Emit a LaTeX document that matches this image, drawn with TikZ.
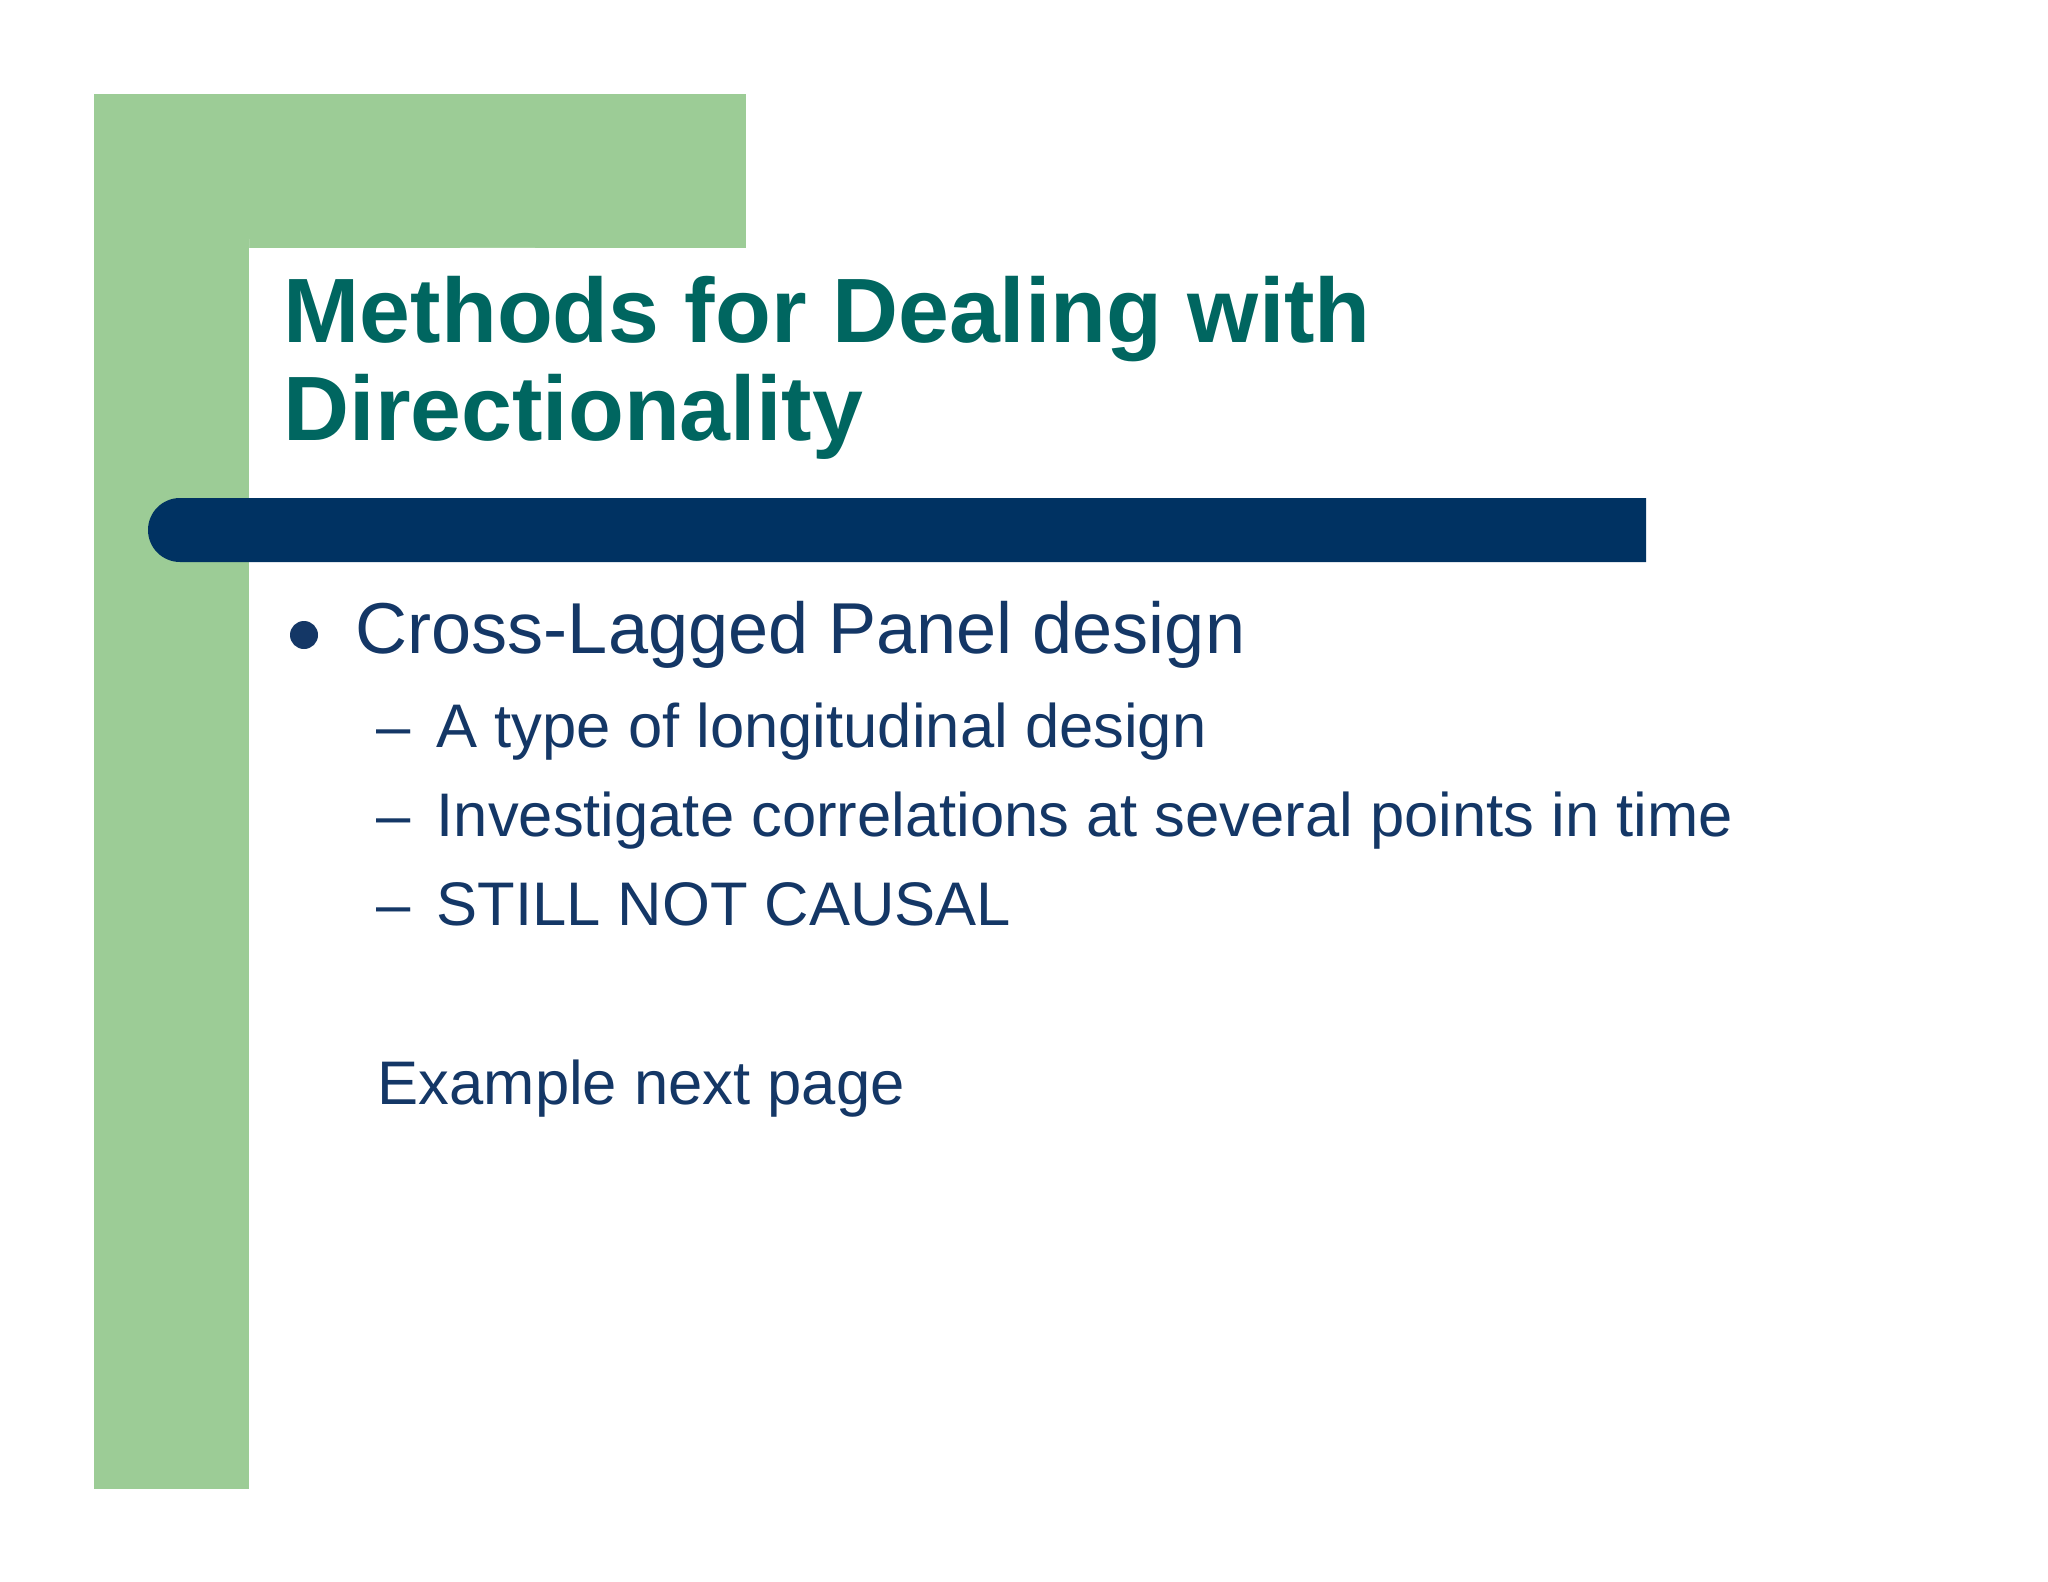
\documentclass[tikz,border=0pt]{standalone}
\usepackage{fontspec}
\setmainfont{Liberation Sans}
\definecolor{grn}{HTML}{9CCC96}
\definecolor{navy}{HTML}{003262}
\definecolor{teal}{HTML}{006660}
\definecolor{txt}{HTML}{143766}
\begin{document}
\begin{tikzpicture}[x=0.01cm,y=-0.01cm,
  title/.style={anchor=base west,inner sep=0,text=teal,font=\fontsize{26}{30}\selectfont\bfseries},
  lvlone/.style={anchor=base west,inner sep=0,text=txt,font=\fontsize{20.5}{24}\selectfont},
  lvltwo/.style={anchor=base west,inner sep=0,text=txt,font=\fontsize{17.5}{21}\selectfont}]
\useasboundingbox[fill=white] (0,0) rectangle (2048,1582);
\fill[grn] (94,94) rectangle (746,248);
\fill[grn] (94,94) rectangle (249,1489);
\fill[white] (249,248) [rounded corners=60] -- (249,450) -- (249,248) -- (746,248) [sharp corners] -- (746,300) -- (249,300) -- cycle;
\fill[navy] (1646,498) -- (1646,562) -- (180,562) arc (90:270:32) -- cycle;
\fill[navy] (180,498) rectangle (200,562);
\node[title] (t1) at (283,342) {Methods for Dealing with};
\node[title] (t2) at (283,440) {Directionality};
\fill[txt] (304,635) circle (14);
\node[lvlone] (b1) at (355,653) {Cross-Lagged Panel design};
\node[lvltwo] (d1) at (376,747) {–};
\node[lvltwo] (s1) at (436,747) {A type of longitudinal design};
\node[lvltwo] (d2) at (376,836) {–};
\node[lvltwo] (s2) at (436,836) {Investigate correlations at several points in time};
\node[lvltwo] (d3) at (376,925) {–};
\node[lvltwo] (s3) at (436,925) {STILL NOT CAUSAL};
\node[lvltwo] (ex) at (377,1104) {Example next page};
\end{tikzpicture}
\end{document}
